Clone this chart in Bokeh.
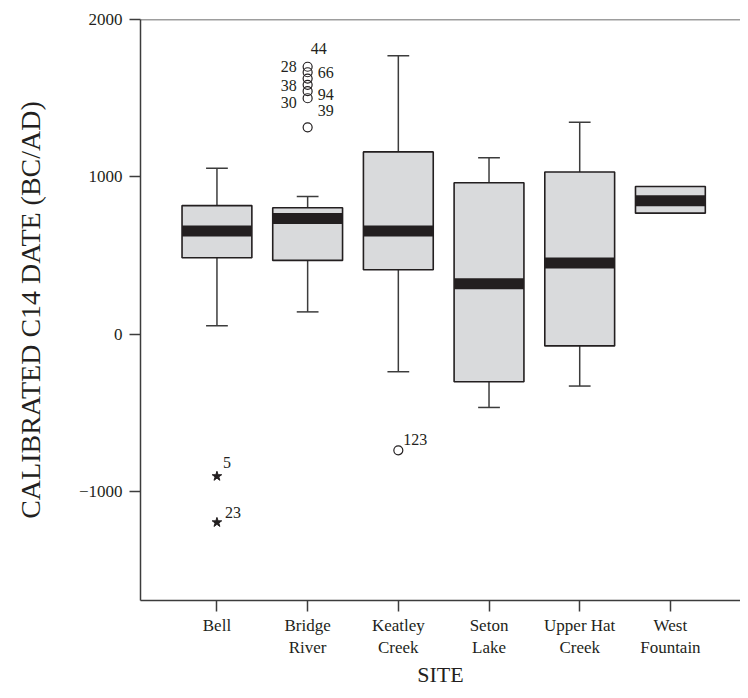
from bokeh.plotting import figure
from bokeh.models import FixedTicker, Span
from bokeh.embed import file_html
from bokeh.resources import INLINE
from bokeh.core.properties import value

# ---- data ----
sites = ["Bell", "Bridge\nRiver", "Keatley\nCreek", "Seton\nLake", "Upper Hat\nCreek", "West\nFountain"]
site_pos = [1, 2, 3, 4, 5, 6]
lower_whisker = [55, 143, -237, -464, -328, 770]
q1 = [487, 470, 411, -301, -73, 770]
median = [656, 736, 656, 322, 453, 849]
q3 = [818, 804, 1159, 963, 1031, 939]
upper_whisker = [1056, 876, 1770, 1122, 1347, 939]

# outliers
out_site = [1, 1, 2, 2, 2, 2, 2, 2, 2, 3]
out_value = [-901, -1194, 1700, 1665, 1625, 1585, 1545, 1500, 1315, -736]
out_label = ["5", "23", "44", "66", "28", "38", "94", "30", "39", "123"]
out_marker = ["star", "star", "circle", "circle", "circle", "circle", "circle", "circle", "circle", "circle"]
# label placement (pixels) and alignment
lab_dx = [6, 8, 3, 10, -11, -11, 10, -11, 10, 5]
lab_dy = [-14, -10, -18, 0, -12, 1, 3, 4, -17, -11]
lab_align = ["left", "left", "left", "left", "right", "right", "left", "right", "left", "left"]

INK = "#231f20"
AXC = "#3c3c3c"
FONT = "Liberation Serif"

p = figure(width=740, height=690, output_backend="svg", toolbar_location=None,
           x_range=(0.157, 6.773), y_range=(-1690, 2000))
p.min_border_left = 140
p.min_border_right = 0
p.min_border_top = 19
p.min_border_bottom = 90
p.outline_line_color = None
p.grid.visible = False
p.background_fill_color = "white"

box_w = 0.77
cap_w = 0.24

# whiskers
has_whisk = [i for i in range(len(sites)) if upper_whisker[i] != q3[i] or lower_whisker[i] != q1[i]]
wx = [site_pos[i] for i in has_whisk]
p.segment(x0=wx, x1=wx, y0=[q3[i] for i in has_whisk], y1=[upper_whisker[i] for i in has_whisk],
          line_color=AXC, line_width=1.5)
p.segment(x0=wx, x1=wx, y0=[q1[i] for i in has_whisk], y1=[lower_whisker[i] for i in has_whisk],
          line_color=AXC, line_width=1.5)
p.segment(x0=[x - cap_w / 2 for x in wx], x1=[x + cap_w / 2 for x in wx],
          y0=[upper_whisker[i] for i in has_whisk], y1=[upper_whisker[i] for i in has_whisk],
          line_color=AXC, line_width=1.5)
p.segment(x0=[x - cap_w / 2 for x in wx], x1=[x + cap_w / 2 for x in wx],
          y0=[lower_whisker[i] for i in has_whisk], y1=[lower_whisker[i] for i in has_whisk],
          line_color=AXC, line_width=1.5)

# boxes
p.vbar(x=site_pos, width=box_w, top=q3, bottom=q1, fill_color="#d9dadc",
       line_color=INK, line_width=1.6)
# medians
p.segment(x0=[x - box_w / 2 for x in site_pos], x1=[x + box_w / 2 for x in site_pos],
          y0=median, y1=median, line_color=INK, line_width=11, line_cap="butt")

# outliers
si = [i for i in range(len(out_value)) if out_marker[i] == "star"]
ci = [i for i in range(len(out_value)) if out_marker[i] == "circle"]
p.scatter(x=[out_site[i] for i in si], y=[out_value[i] for i in si], marker="star",
          size=10, fill_color=INK, line_color=INK)
p.scatter(x=[out_site[i] for i in ci], y=[out_value[i] for i in ci], marker="circle",
          size=9, fill_color=None, line_color=INK, line_width=1.2)
p.text(x=out_site, y=out_value, text=out_label, x_offset=lab_dx, y_offset=lab_dy,
       text_align=lab_align, text_baseline="middle", text_font=value(FONT),
       text_font_size="16px", text_color=INK)

# top rule
p.add_layout(Span(location=2000, dimension="width", line_color=AXC, line_width=1.5))

# axes
p.xaxis.ticker = FixedTicker(ticks=site_pos)
p.xaxis.major_label_overrides = {pos: name for pos, name in zip(site_pos, sites)}
p.yaxis.ticker = FixedTicker(ticks=[-1000, 0, 1000, 2000])
for ax in (p.xaxis[0], p.yaxis[0]):
    ax.axis_line_color = AXC
    ax.axis_line_width = 1.5
    ax.major_tick_line_color = AXC
    ax.major_tick_line_width = 1.5
    ax.major_tick_out = 11
    ax.major_tick_in = 0
    ax.minor_tick_line_color = None
    ax.major_label_text_font = FONT
    ax.major_label_text_color = INK
    ax.axis_label_text_font = FONT
    ax.axis_label_text_color = INK
    ax.axis_label_text_font_style = "normal"
p.xaxis.major_label_text_font_size = "17px"
p.yaxis.major_label_text_font_size = "17px"
p.xaxis.major_label_standoff = 4
p.yaxis.major_label_standoff = 7
p.xaxis.axis_label = "SITE"
p.yaxis.axis_label = "CALIBRATED C14 DATE (BC/AD)"
p.xaxis.axis_label_text_font_size = "22px"
p.yaxis.axis_label_text_font_size = "28px"
p.xaxis.axis_label_standoff = 2
p.yaxis.axis_label_standoff = 30

open("out.html", "w").write(file_html(p, INLINE))
